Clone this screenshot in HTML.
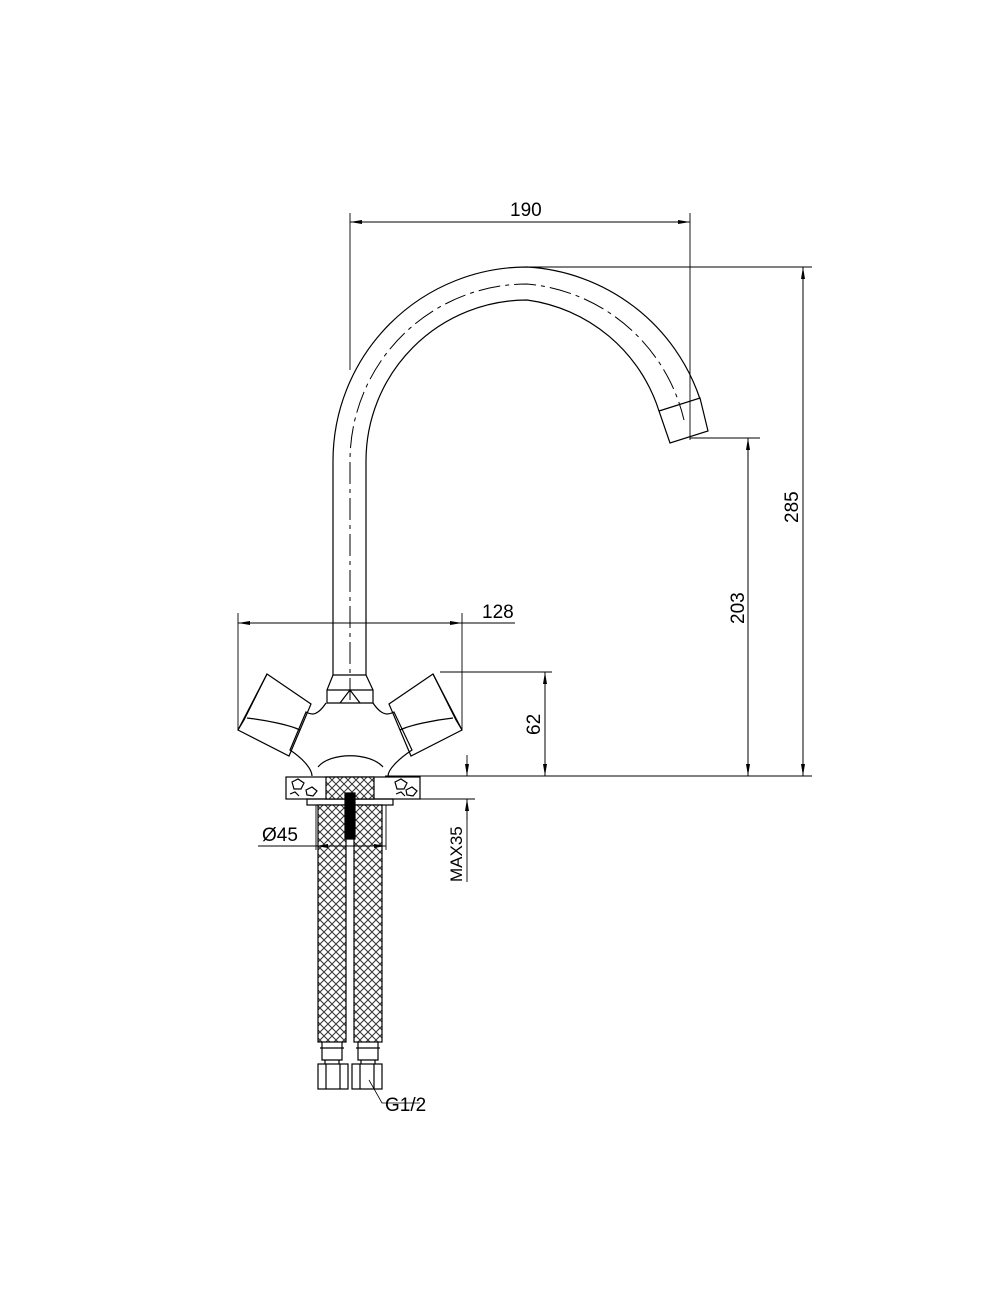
<!DOCTYPE html>
<html><head><meta charset="utf-8"><style>
html,body{margin:0;padding:0;background:#fff}
svg{display:block}
text{font-family:"Liberation Sans",sans-serif;font-size:19px;fill:#000}
</style></head><body>
<svg width="1000" height="1309" viewBox="0 0 1000 1309" xmlns="http://www.w3.org/2000/svg">
<defs>
<pattern id="mesh" width="8" height="8" patternUnits="userSpaceOnUse">
<rect width="8" height="8" fill="#fff"/>
<path d="M0 0L8 8M8 0L0 8" stroke="#333" stroke-width="1"/>
</pattern>
<marker id="ar" markerWidth="12" markerHeight="6" refX="12" refY="3" orient="auto" markerUnits="userSpaceOnUse">
<path d="M0 1L12 3L0 5z" fill="#000"/>
</marker>
</defs>
<g fill="none" stroke="#000" stroke-width="1.2">
<path d="M333 675 L333 461 A194 194 0 0 1 527 267 A194 194 0 0 1 700 399"/>
<path d="M366 675 L366 461 A161 161 0 0 1 527 300 A161 161 0 0 1 659 411"/>
<path d="M350 700 L350 461 A177 177 0 0 1 527 284 A177 177 0 0 1 684 420" stroke-dasharray="22 5 4 5" stroke-width="1"/>
<path d="M659 411 L700 398 L708 431 L670 443 Z"/>
<path d="M333 675 L327 690 L327 703 L373 703 L373 690 L366 675 Z"/>
<path d="M327 690 L373 690 M350 690 L340 703 M350 690 L360 703"/>
<path d="M326 703 C316 718 310 714 306 712 L290 750 C305 760 312 770 312 776"/>
<path d="M373 703 C383 718 390 714 394 712 L412 750 C397 760 388 770 388 776"/>
<path d="M318 767 C330 752 370 752 383 767"/>
<path d="M267 674 L311 704 L289 756 L238 730 Z"/>
<path d="M247 718 C265 720 290 725 300 730"/>
<path d="M267 674 L244 720 M238 730 L244 720"/>
<path d="M433 674 L389 704 L411 756 L462 730 Z"/>
<path d="M453 718 C435 720 410 725 400 730"/>
<path d="M433 674 L456 720 M462 730 L456 720"/>
<rect x="286" y="777" width="134" height="22"/>
<rect x="307" y="799" width="86" height="6"/>
<rect x="326" y="777" width="48" height="22" fill="url(#mesh)"/>
<path d="M292 782 l6 -3 l6 4 l-3 6 l-7 0z M306 790 l6 -3 l5 4 l-4 5 l-6 -1z M395 782 l6 -3 l6 4 l-3 6 l-7 0z M406 790 l6 -3 l5 4 l-4 5 l-6 -1z M290 794 l5 -2 l4 4 M396 794 l5 -2 l4 4"/>
<rect x="318" y="805" width="28" height="237" fill="url(#mesh)"/>
<rect x="354" y="805" width="28" height="237" fill="url(#mesh)"/>
<rect x="345" y="793" width="10" height="46" fill="#000"/>
<path d="M322 1042 L322 1060 L342 1060 L342 1042 M358 1042 L358 1060 L378 1060 L378 1042"/>
<path d="M320 1048 L344 1048 M356 1048 L380 1048"/>
<path d="M325 1060 L325 1064 M339 1060 L339 1064 M361 1060 L361 1064 M375 1060 L375 1064"/>
<rect x="318" y="1064" width="30" height="25"/><rect x="352" y="1064" width="30" height="25"/>
<path d="M326 1064 L326 1089 M340 1064 L340 1089 M360 1064 L360 1089 M374 1064 L374 1089"/>
<path d="M369 1080 L382 1103 L420 1103" stroke-width="0.8"/>
</g>
<g fill="none" stroke="#000" stroke-width="0.9">
<path d="M350 213 L350 370 M690 213 L690 440"/>
<path d="M350 222 L690 222"/>
<path d="M527 267 L812 267 M690 438 L760 438 M385 776 L812 776"/>
<path d="M803 776 L803 267" marker-end="url(#ar)"/>
<path d="M803 267 L803 776" marker-end="url(#ar)"/>
<path d="M748 776 L748 438" marker-end="url(#ar)"/>
<path d="M748 438 L748 776" marker-end="url(#ar)"/>
<path d="M440 672 L552 672"/>
<path d="M545 776 L545 672" marker-end="url(#ar)"/>
<path d="M545 672 L545 776" marker-end="url(#ar)"/>
<path d="M238 613 L238 730 M462 613 L462 730"/>
<path d="M462 623 L238 623" marker-end="url(#ar)"/>
<path d="M238 623 L515 623"/>
<path d="M300 623 L462 623" marker-end="url(#ar)"/>
<path d="M420 799 L475 799"/>
<path d="M467 755 L467 776" marker-end="url(#ar)"/>
<path d="M467 820 L467 799" marker-end="url(#ar)"/>
<path d="M467 799 L467 882"/>
<path d="M316 805 L316 850 M386 805 L386 850"/>
<path d="M258 846 L386 846"/>
<path d="M360 846 L386 846" marker-end="url(#ar)"/>
<path d="M340 846 L316 846" marker-end="url(#ar)"/>
</g>
<path d="M690 222 L678 220 L678 224z M350 222 L362 220 L362 224z" fill="#000"/>
<text x="510" y="216">190</text>
<text x="482" y="618">128</text>
<text x="262" y="841">Ø45</text>
<text x="385" y="1111">G1/2</text>
<text transform="translate(798 523) rotate(-90)">285</text>
<text transform="translate(744 624) rotate(-90)">203</text>
<text transform="translate(540 735) rotate(-90)">62</text>
<text transform="translate(462 882) rotate(-90)" style="font-size:17px">MAX35</text>
</svg>
</body></html>
